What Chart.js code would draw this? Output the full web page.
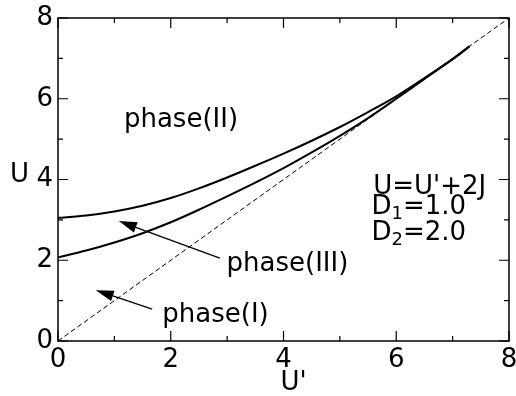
<!DOCTYPE html>
<html>
<head>
<meta charset="utf-8">
<script src="https://cdn.jsdelivr.net/npm/chart.js@4/dist/chart.umd.min.js"></script>
<style>
  html, body { margin: 0; padding: 0; background: #fff; }
  #wrap { width: 516px; height: 396px; }
</style>
</head>
<body>
<div id="wrap"><canvas id="phaseChart" width="516" height="396"></canvas></div>
<script>
// data
const xs = [0, 0.5, 1, 1.5, 2, 2.5, 3, 3.5, 4, 4.5, 5, 5.5, 6, 6.5, 7, 7.3];
const upperU = [3.05, 3.11, 3.21, 3.35, 3.54, 3.78, 4.05, 4.34, 4.64, 4.96, 5.30, 5.67, 6.06, 6.51, 6.98, 7.30];
const lowerU = [2.07, 2.24, 2.44, 2.67, 2.94, 3.25, 3.58, 3.92, 4.28, 4.67, 5.08, 5.52, 6.00, 6.49, 6.98, 7.30];
const diagX = [0, 8];
const majorTicks = [0, 2, 4, 6, 8];
const minorTicks = [1, 3, 5, 7];

const toPts = (x, y) => x.map((v, i) => ({ x: v, y: y[i] }));

const FONT = '26px "DejaVu Sans"';

// labels in data coordinates
const labels = [
  { text: 'phase(II)', x: 1.17, y: 5.30 },
  { text: 'phase(III)', x: 2.99, y: 1.73 },
  { text: 'phase(I)', x: 1.85, y: 0.47 },
  { text: "U=U'+2J", x: 5.59, y: 3.64 }
];
const arrows = [
  { from: [2.87, 2.05], to: [1.08, 2.97] },
  { from: [1.67, 0.79], to: [0.67, 1.26] }
];

const decor = {
  id: 'decor',
  afterDatasetsDraw(chart) {
    const { ctx, chartArea: a, scales: { x, y } } = chart;
    ctx.save();
    ctx.strokeStyle = '#000';
    ctx.fillStyle = '#000';
    ctx.lineWidth = 1.5;
    ctx.strokeRect(a.left, a.top, a.right - a.left, a.bottom - a.top);

    // inward ticks on all four sides
    ctx.lineWidth = 1.2;
    const tick = (v, len) => {
      const px = x.getPixelForValue(v), py = y.getPixelForValue(v);
      ctx.beginPath();
      ctx.moveTo(px, a.bottom); ctx.lineTo(px, a.bottom - len);
      ctx.moveTo(px, a.top); ctx.lineTo(px, a.top + len);
      ctx.moveTo(a.left, py); ctx.lineTo(a.left + len, py);
      ctx.moveTo(a.right, py); ctx.lineTo(a.right - len, py);
      ctx.stroke();
    };
    majorTicks.forEach(v => tick(v, 10));
    minorTicks.forEach(v => tick(v, 5));

    // tick labels
    ctx.font = FONT;
    ctx.textAlign = 'center';
    ctx.textBaseline = 'top';
    majorTicks.forEach(v => ctx.fillText(String(v), x.getPixelForValue(v), a.bottom + 6));
    ctx.textAlign = 'right';
    ctx.textBaseline = 'middle';
    majorTicks.forEach(v => ctx.fillText(String(v), a.left - 5, y.getPixelForValue(v)));

    // axis titles
    ctx.textAlign = 'left';
    ctx.textBaseline = 'middle';
    ctx.fillText('U', 10, y.getPixelForValue(4) - 4);
    ctx.textAlign = 'center';
    ctx.textBaseline = 'alphabetic';
    ctx.fillText("U'", x.getPixelForValue(4) + 10, 390);

    // annotations
    ctx.textAlign = 'left';
    labels.forEach(l => ctx.fillText(l.text, x.getPixelForValue(l.x), y.getPixelForValue(l.y)));

    // D1, D2 with subscripts
    const sub = (main, s, rest, vx, vy) => {
      let px = x.getPixelForValue(vx), py = y.getPixelForValue(vy);
      ctx.font = FONT;
      ctx.fillText(main, px, py);
      px += ctx.measureText(main).width;
      ctx.font = '18px "DejaVu Sans"';
      ctx.fillText(s, px, py + 5);
      px += ctx.measureText(s).width;
      ctx.font = FONT;
      ctx.fillText(rest, px, py);
    };
    sub('D', '1', '=1.0', 5.56, 3.14);
    sub('D', '2', '=2.0', 5.56, 2.49);

    // arrows
    ctx.lineWidth = 1.3;
    arrows.forEach(ar => {
      const x1 = x.getPixelForValue(ar.from[0]), y1 = y.getPixelForValue(ar.from[1]);
      const x2 = x.getPixelForValue(ar.to[0]), y2 = y.getPixelForValue(ar.to[1]);
      const ang = Math.atan2(y2 - y1, x2 - x1);
      const hl = 18, hw = 5.5;
      const bx = x2 - hl * Math.cos(ang), by = y2 - hl * Math.sin(ang);
      ctx.beginPath();
      ctx.moveTo(x1, y1); ctx.lineTo(bx, by);
      ctx.stroke();
      ctx.beginPath();
      ctx.moveTo(x2, y2);
      ctx.lineTo(bx + hw * Math.sin(ang), by - hw * Math.cos(ang));
      ctx.lineTo(bx - hw * Math.sin(ang), by + hw * Math.cos(ang));
      ctx.closePath();
      ctx.fill();
    });
    ctx.restore();
  }
};

new Chart(document.getElementById('phaseChart'), {
  type: 'scatter',
  data: {
    datasets: [
      { data: toPts(xs, upperU), showLine: true, borderColor: '#000', borderWidth: 2, pointRadius: 0, tension: 0.3 },
      { data: toPts(xs, lowerU), showLine: true, borderColor: '#000', borderWidth: 2, pointRadius: 0, tension: 0.3 },
      { data: toPts(diagX, diagX), showLine: true, borderColor: '#000', borderWidth: 1, borderDash: [5, 3], pointRadius: 0 }
    ]
  },
  options: {
    responsive: false,
    animation: false,
    layout: { padding: { left: 58, right: 7, top: 18, bottom: 55 } },
    plugins: { legend: { display: false }, tooltip: { enabled: false } },
    scales: {
      x: { type: 'linear', min: 0, max: 8, display: false },
      y: { type: 'linear', min: 0, max: 8, display: false }
    }
  },
  plugins: [decor]
});
</script>
</body>
</html>
